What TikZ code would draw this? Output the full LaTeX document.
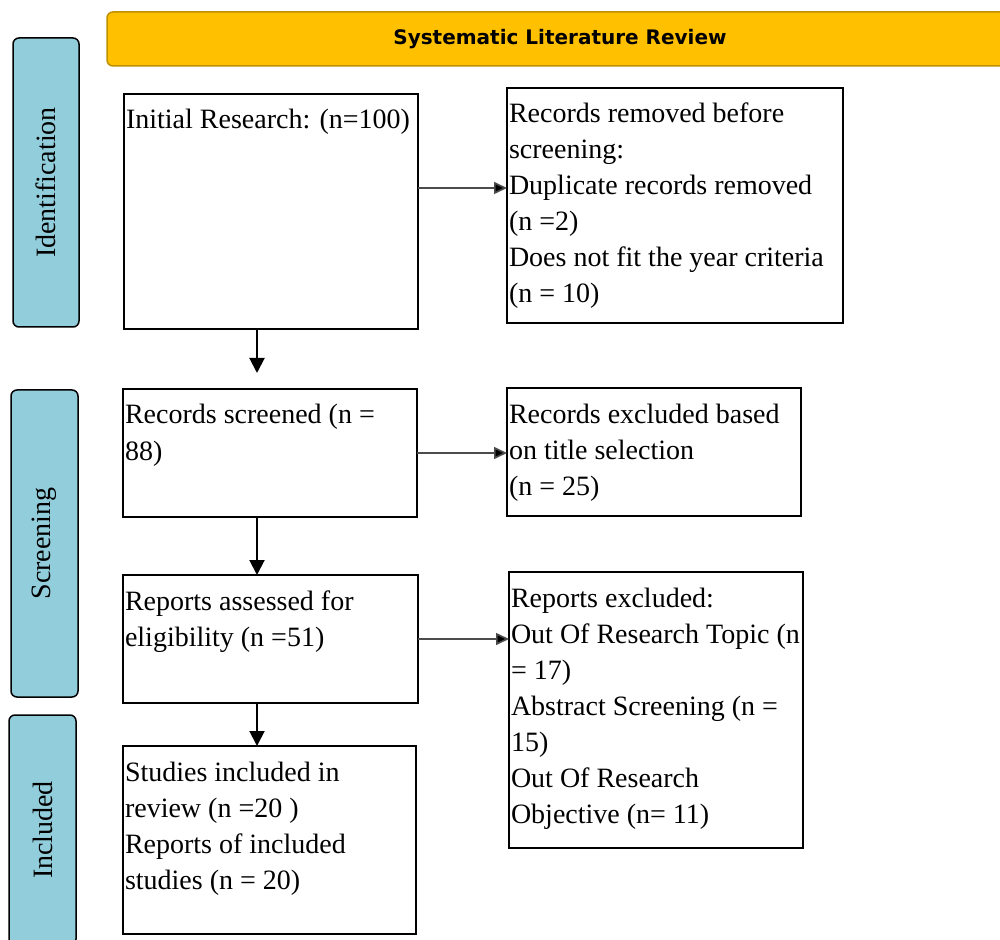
\documentclass[tikz,border=0pt]{standalone}
\usepackage{fontspec}
\setmainfont{Liberation Serif}
\newfontfamily\headfont{DejaVu Sans}
\usetikzlibrary{positioning,calc,arrows.meta}

\definecolor{stageblue}{RGB}{146,205,220}
\definecolor{headgold}{RGB}{255,192,0}
\definecolor{headedge}{RGB}{191,144,0}

\newlength{\px}
\setlength{\px}{0.5pt}
\newcommand{\flowtext}[3]{\parbox[t][#2\px][t]{#1\px}{\raggedright\rule{0pt}{17.5pt}#3}}

\tikzset{
  flowbox/.style={draw, line width=1pt, anchor=north west, inner xsep=1pt, inner ysep=0pt,
    outer sep=0pt, font=\fontsize{14pt}{18pt}\selectfont},
  stagebox/.style={draw, line width=0.75pt, fill=stageblue, rounded corners=3pt, rotate=90,
    inner sep=0pt, font=\fontsize{14pt}{16pt}\selectfont},
  headbox/.style={draw=headedge, line width=0.75pt, fill=headgold, rounded corners=3pt,
    minimum width=453pt, minimum height=27pt, font=\headfont\bfseries\fontsize{10pt}{12pt}\selectfont},
  sidearrow/.style={draw=black!70, line width=0.8pt, -{Triangle[length=6.5pt,width=6pt,fill=black]}},
  downarrow/.style={line width=1pt, -{Triangle[length=7.5pt,width=7.5pt]}},
}

\begin{document}
\begin{tikzpicture}[x=0.5pt, y=-0.5pt]
  \useasboundingbox (0,0) rectangle (1000,940);
  \node[headbox] (h1) at (560,39) {Systematic Literature Review};
  \node[stagebox, minimum width=144.5pt, minimum height=33pt] (s1) at (46,182.5) {Identification};
  \node[stagebox, minimum width=153.5pt, minimum height=33.5pt] (s2) at (44.5,543.5) {Screening};
  \node[stagebox, minimum width=115pt, minimum height=33.5pt] (s3) at (42.5,830) {Included};

  \node[flowbox] (b1) at (124,94) {\flowtext{290}{235}{Initial Research: (n=100)}};
  \node[flowbox] (b2) at ($(b1.north east) + (89,-6)$) {\flowtext{332}{235}{Records removed before\\
    screening:\\ Duplicate records removed\\ (n =2)\\ Does not fit the year criteria\\ (n = 10)}};
  \node[flowbox] (b3) at ($(b1.south west) + (-1,60)$) {\flowtext{290}{128}{Records screened (n =\\ 88)}};
  \node[flowbox] (b4) at ($(b3.north east) + (90,-1)$) {\flowtext{290}{128}{Records excluded based\\
    on title selection\\ (n = 25)}};
  \node[flowbox] (b5) at ($(b3.south west) + (0,58)$) {\flowtext{291}{128}{Reports assessed for\\
    eligibility (n =51)}};
  \node[flowbox] (b6) at ($(b5.north east) + (91,-3)$) {\flowtext{290}{276}{Reports excluded:\\
    Out Of Research Topic (n\\ = 17)\\ Abstract Screening (n =\\ 15)\\ Out Of Research\\ Objective (n= 11)}};
  \node[flowbox] (b7) at ($(b5.south west) + (0,43)$) {\flowtext{289}{188}{Studies included in\\
    review (n =20 )\\ Reports of included\\ studies (n = 20)}};

  \coordinate (a1) at ([yshift=11.75pt]b1.east);
  \coordinate (c1) at (257,0);
  \draw[sidearrow] (a1) -- (a1 -| b2.west);
  \draw[sidearrow] (b3.east) -- (b3.east -| b4.west);
  \draw[sidearrow] (b5.east) -- (b5.east -| b6.west);
  \draw[downarrow, shorten >=8pt] (b1.south -| c1) -- (b3.north -| c1);
  \draw[downarrow] (b3.south -| c1) -- (b5.north -| c1);
  \draw[downarrow] (b5.south -| c1) -- (b7.north -| c1);
\end{tikzpicture}
\end{document}
